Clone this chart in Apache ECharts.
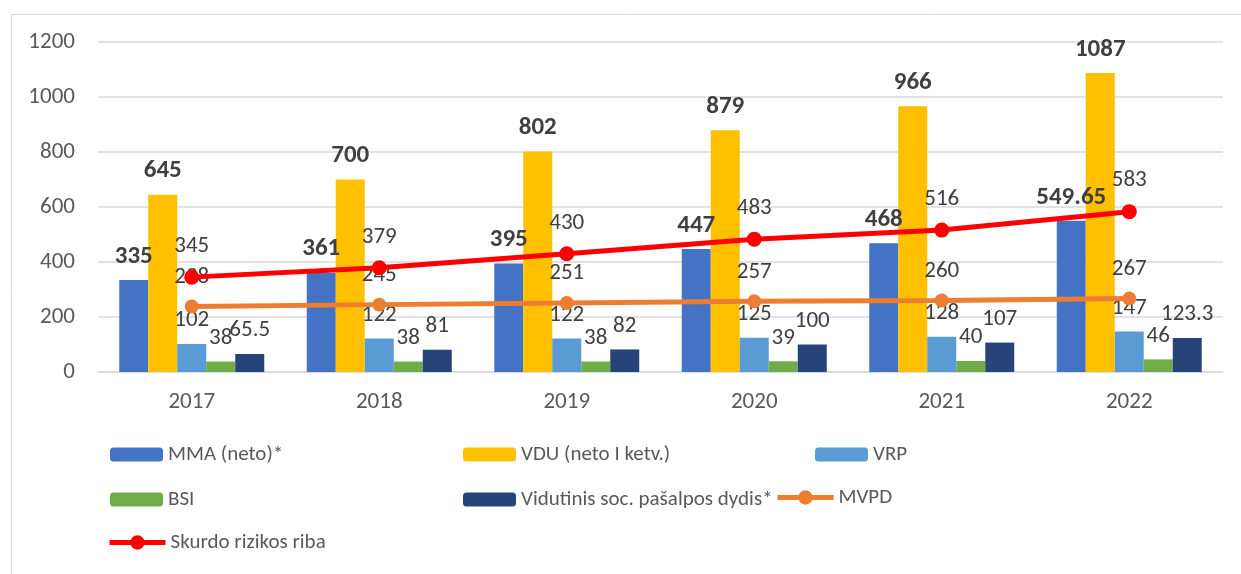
<!DOCTYPE html>
<html>
	<head>
		<meta charset="utf-8">
		<title>Skurdo rizikos riba</title>
		<script src="https://cdn.jsdelivr.net/npm/echarts@6/dist/echarts.min.js"></script>
		<style>
			html, body { margin: 0; padding: 0; background: #fff; }
			#main { width: 1241px; height: 574px; }
		</style>
	</head>
	<body>
		<div id="main"></div>
		<script>
		// duomenys
		var years = ['2017', '2018', '2019', '2020', '2021', '2022'];
		var mma = [335, 361, 395, 447, 468, 549.65];
		var vdu = [645, 700, 802, 879, 966, 1087];
		var vrp = [102, 122, 122, 125, 128, 147];
		var bsi = [38, 38, 38, 39, 40, 46];
		var socPasalpa = [65.5, 81, 82, 100, 107, 123.3];
		var mvpd = [238, 245, 251, 257, 260, 267];
		var skurdoRiba = [345, 379, 430, 483, 516, 583];
		var yTicks = [0, 200, 400, 600, 800, 1000, 1200];

		var font = 'Carlito, Calibri, Lato, sans-serif';
		var labelColor = '#404040';

		function boldLabel() {
			return { show: true, position: 'top', distance: 11, fontSize: 25, fontWeight: 'bold', color: labelColor, fontFamily: font };
		}
		function plainLabel(d) {
			return { show: true, position: 'top', distance: d, fontSize: 23, color: labelColor, fontFamily: font };
		}
		function barSeries(name, data, color, label) {
			return { name: name, type: 'bar', data: data, barWidth: 29, barGap: '0%', itemStyle: { color: color }, label: label, z: 2 };
		}
		function legendAt(name, left, top, w, h) {
			return {
				data: [name], left: left, top: top, itemWidth: w, itemHeight: h, padding: 0,
				lineStyle: { width: 5 },
				textStyle: { fontSize: 21, color: '#595959', fontFamily: font }
			};
		}

		var myChart = echarts.init(document.getElementById('main'));
		var option = {
			animation: false,
			textStyle: { fontFamily: font },
			graphic: [{
				type: 'rect', left: 9, top: 12,
				shape: { width: 1240, height: 570 },
				style: { fill: 'none', stroke: '#D9D9D9', lineWidth: 1 }
			}],
			grid: { left: 98, right: 18, top: 42, bottom: 202 },
			legend: [
				legendAt('MMA (neto)*', 110, 444, 53, 14),
				legendAt('VDU (neto I ketv.)', 463, 444, 53, 14),
				legendAt('VRP', 815, 444, 53, 14),
				legendAt('BSI', 110, 489, 53, 14),
				legendAt('Vidutinis soc. pašalpos dydis*', 463, 489, 53, 14),
				legendAt('MVPD', 775, 487, 56, 18),
				legendAt('Skurdo rizikos riba', 107, 532, 56, 18)
			],
			xAxis: {
				type: 'category',
				data: years,
				axisTick: { show: false },
				axisLine: { lineStyle: { color: '#D9D9D9', width: 1.5 } },
				axisLabel: { margin: 19, fontSize: 23, color: '#595959', fontFamily: font }
			},
			yAxis: {
				type: 'value',
				min: yTicks[0],
				max: yTicks[yTicks.length - 1],
				interval: yTicks[1] - yTicks[0],
				axisLine: { show: false },
				axisTick: { show: false },
				axisLabel: {
					margin: 23, fontSize: 23, color: '#595959', fontFamily: font,
					formatter: function (v) { return String(v); }
				},
				splitLine: { lineStyle: { color: '#D9D9D9', width: 1.5 } }
			},
			series: [
				barSeries('MMA (neto)*', mma, '#4472C4', boldLabel()),
				barSeries('VDU (neto I ketv.)', vdu, '#FFC000', boldLabel()),
				barSeries('VRP', vrp, '#5B9BD5', plainLabel(12)),
				barSeries('BSI', bsi, '#70AD47', plainLabel(12)),
				barSeries('Vidutinis soc. pašalpos dydis*', socPasalpa, '#264478', plainLabel(12)),
				{
					name: 'MVPD', type: 'line', data: mvpd, z: 5,
					symbol: 'circle', symbolSize: 14,
					lineStyle: { color: '#ED7D31', width: 5 },
					itemStyle: { color: '#ED7D31' },
					label: plainLabel(11)
				},
				{
					name: 'Skurdo rizikos riba', type: 'line', data: skurdoRiba, z: 6,
					symbol: 'circle', symbolSize: 15,
					lineStyle: { color: '#FF0000', width: 5 },
					itemStyle: { color: '#FF0000' },
					label: plainLabel(12)
				}
			]
		};
		myChart.setOption(option);
		</script>
	</body>
</html>
